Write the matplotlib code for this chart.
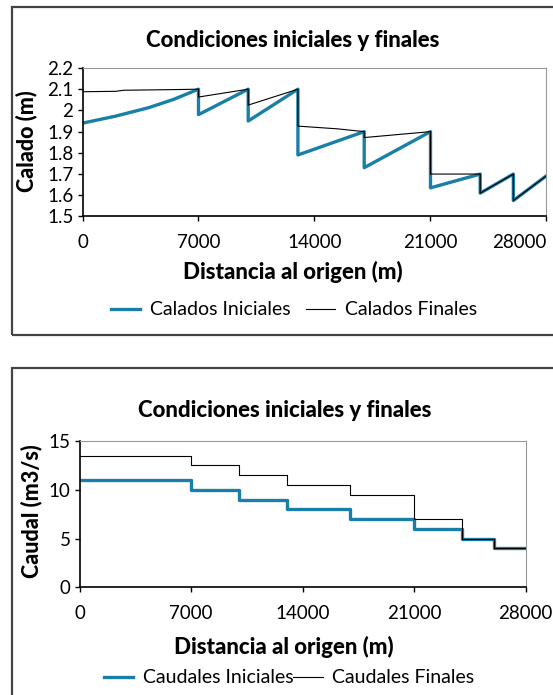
import matplotlib.pyplot as plt
from matplotlib.patches import Rectangle

# --- data ---
dist_ini = [0, 2000, 4000, 5500, 7000, 7000, 10000, 10000, 13000, 13000, 17000, 17000,
            21000, 21000, 24000, 24000, 26000, 26000, 28000]
calado_ini = [1.94, 1.973, 2.013, 2.052, 2.10, 1.98, 2.10, 1.95, 2.10, 1.79, 1.90, 1.73,
              1.90, 1.635, 1.70, 1.61, 1.70, 1.575, 1.692]

dist_fin = [0, 2000, 2500, 5500, 7000, 7000, 10000, 10000, 13000, 13000, 15400, 17000, 17000,
            21000, 21000, 24000, 24000, 26000, 26000, 28000]
calado_fin = [2.088, 2.09, 2.095, 2.098, 2.10, 2.063, 2.10, 2.025, 2.10, 1.926, 1.913, 1.90, 1.872,
              1.90, 1.70, 1.70, 1.61, 1.70, 1.575, 1.692]

dist_q = [0, 7000, 10000, 13000, 17000, 21000, 24000, 26000, 28000]
caudal_ini = [11, 10, 9, 8, 7, 6, 5, 4, 4]
caudal_fin = [13.5, 12.5, 11.5, 10.5, 9.5, 7, 5, 4, 4]

x_ticks = [0, 7000, 14000, 21000, 28000]

blue = '#1a7fa8'
plt.rcParams['font.family'] = ['Lato', 'DejaVu Sans']

fig = plt.figure(figsize=(5.53, 6.95), dpi=100)

# panel frames
for y0, h in [(0.5173, 0.472), (-0.02, 0.491)]:
    fig.patches.append(Rectangle((0.0217, y0), 1.2, h, transform=fig.transFigure,
                                 fill=False, edgecolor='#444444', linewidth=1.6))


def style_axes(ax):
    ax.spines['top'].set_color('#999999')
    ax.spines['right'].set_color('#999999')
    ax.spines['left'].set_linewidth(1.2)
    ax.spines['bottom'].set_linewidth(1.2)
    ax.tick_params(direction='out', length=3.5, width=1, labelsize=13.5, pad=3)
    ax.tick_params(axis='x', pad=9)
    ax.set_xlim(0, 28000)
    ax.set_xticks(x_ticks)


# top chart: calados
ax1 = fig.add_axes([0.1492, 0.6885, 0.839, 0.2137])
ax1.plot(dist_ini, calado_ini, color=blue, linewidth=2.4, label='Calados Iniciales')
ax1.plot(dist_fin, calado_fin, color='black', linewidth=0.8, label='Calados Finales')
ax1.set_ylim(1.5, 2.2)
ax1.set_yticks([1.5, 1.6, 1.7, 1.8, 1.9, 2.0, 2.1, 2.2])
ax1.set_yticklabels(['1.5', '1.6', '1.7', '1.8', '1.9', '2', '2.1', '2.2'])
style_axes(ax1)
ax1.get_xticklabels()[-1].set_horizontalalignment('right')

fig.text(0.53, 0.9424, 'Condiciones iniciales y finales', ha='center', va='center',
         fontsize=16, fontweight='black')
fig.text(0.53, 0.6086, 'Distancia al origen (m)', ha='center', va='center',
         fontsize=16, fontweight='black')
fig.text(0.048, 0.797, 'Calado (m)', ha='center', va='center', rotation=90,
         fontsize=15.5, fontweight='black')
h, l = ax1.get_legend_handles_labels()
fig.legend(h, l, loc='center', bbox_to_anchor=(0.532, 0.554), ncol=2, frameon=False,
           fontsize=14, handlelength=1.5, columnspacing=0.8, handletextpad=0.5)

# bottom chart: caudales
ax2 = fig.add_axes([0.1441, 0.1547, 0.8064, 0.2108])
ax2.step(dist_q, caudal_ini, where='post', color=blue, linewidth=2.4, label='Caudales Iniciales')
ax2.step(dist_q, caudal_fin, where='post', color='black', linewidth=0.8, label='Caudales Finales')
ax2.set_ylim(0, 15)
ax2.set_yticks([0, 5, 10, 15])
style_axes(ax2)

fig.text(0.514, 0.41, 'Condiciones iniciales y finales', ha='center', va='center',
         fontsize=16, fontweight='black')
fig.text(0.514, 0.069, 'Distancia al origen (m)', ha='center', va='center',
         fontsize=16, fontweight='black')
fig.text(0.057, 0.265, 'Caudal (m3/s)', ha='center', va='center', rotation=90,
         fontsize=15.5, fontweight='black')
h, l = ax2.get_legend_handles_labels()
fig.legend(h, l, loc='center', bbox_to_anchor=(0.523, 0.0245), ncol=2, frameon=False,
           fontsize=14, handlelength=1.5, columnspacing=0.0, handletextpad=0.5)

fig.savefig('out.png', dpi=100)
